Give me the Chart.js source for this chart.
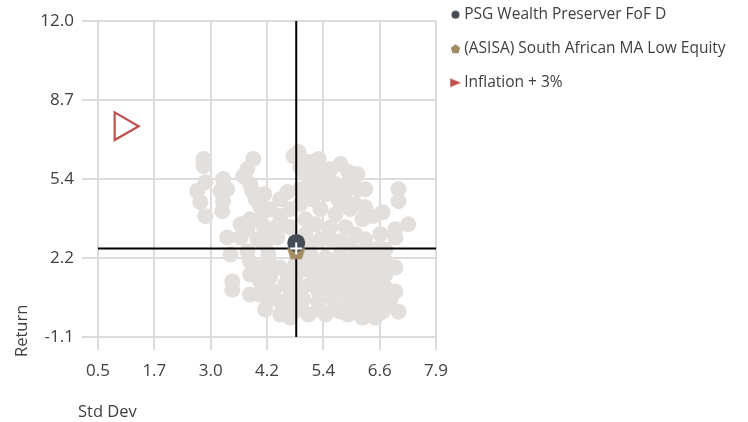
<!DOCTYPE html>
<html>
<head>
    <title>Risk vs Return</title>
    <meta charset="utf-8" />
    <script src="https://cdn.jsdelivr.net/npm/chart.js@4.4.0/dist/chart.umd.min.js"></script>
    <style>
        html, body { margin: 0; padding: 0; background: #fff; }
        .chart-container { position: relative; width: 748px; height: 422px; }
    </style>
</head>
<body>
    <div class="chart-container"><canvas id="chart"></canvas></div>

    <script>
        // axis ranges + tick labels as printed on the chart
        const xMin = 0.5, xMax = 7.9;
        const yMin = -1.1, yMax = 12.0;
        const xTickLabels = ['0.5', '1.7', '3.0', '4.2', '5.4', '6.6', '7.9'];
        const yTickLabels = ['-1.1', '2.2', '5.4', '8.7', '12.0'];
        const xTitle = 'Std Dev';
        const yTitle = 'Return';

        // peer group (grey cloud)
        const peerStdDev = [
            2.81, 2.81, 2.67, 2.85, 2.74, 2.85, 3.24, 3.18, 3.33, 3.24,
            3.22, 3.90, 3.77, 3.68, 3.83, 3.88, 4.05, 3.83, 4.05, 3.77,
            4.12, 4.49, 4.65, 4.49, 4.43, 4.78, 3.33, 3.62, 3.99, 4.43,
            3.40, 3.77, 3.44, 3.44, 4.05, 4.05, 4.05, 4.27, 4.49, 4.49,
            4.49, 4.71, 4.65, 4.34, 4.23, 4.71, 4.75,
            4.27, 4.71, 4.71,
            4.89, 5.11, 5.33, 5.41, 5.04, 4.93, 5.15, 5.54,
            5.98, 6.18, 6.20, 5.92, 5.76, 7.08, 7.08, 6.73, 7.29, 7.01, 6.51, 6.29,
            4.93, 5.19, 5.48, 5.37, 5.70, 6.02, 5.04, 5.26, 5.59, 5.92, 6.13, 5.04, 5.37, 5.81, 6.35, 6.68, 7.01, 6.57,
            5.15, 5.48, 5.81, 6.13, 6.46, 6.79, 7.01,
            5.04, 5.37, 5.70, 6.02, 6.35, 6.79,
            5.15, 5.48, 5.81, 6.13, 6.46, 6.79, 7.01,
            5.00, 5.33, 5.65, 5.98, 6.29, 6.64,
            5.11, 5.48, 5.98, 6.29, 6.57, 6.73, 7.08,
            5.81, 4.93, 4.93,
            4.93, 5.26, 5.59, 5.81, 5.70, 6.02, 6.35, 5.37, 5.04, 5.81, 6.13, 6.35,
            5.59, 6.02, 5.15, 6.79, 6.35,
            4.82, 4.82, 5.21, 5.59, 5.92, 6.24, 6.64, 5.26, 5.54, 5.92, 6.24, 6.57,
            4.93, 5.33, 5.70, 6.02, 6.35, 6.90, 4.93, 5.33, 5.65, 6.13, 6.46, 6.86,
            4.16, 3.83, 4.27, 4.60, 4.23, 4.71, 4.16, 3.83, 3.83,
            3.95, 3.62, 4.27, 4.14
        ];
        const peerReturn = [
            6.28, 5.99, 4.95, 5.32, 4.49, 3.91, 5.45, 4.95, 5.03, 4.53,
            4.11, 6.28, 5.86, 5.57, 5.24, 4.95, 4.32, 3.78, 3.78, 3.37,
            3.49, 4.61, 4.91, 3.91, 3.49, 6.40, 3.03, 3.03, 2.95, 3.03,
            2.32, 2.45, 1.20, 0.87, 1.78, 1.20, 0.66, 1.37, 1.78, 0.37,
            -0.17, -0.30, 1.49, 0.79, 2.32, 0.87, 0.24,
            4.20, 4.20, 3.45,
            6.57, 6.15, 6.28, 5.86, 5.65, 5.03, 5.24, 5.45,
            5.74, 5.65, 5.03, 4.91, 4.61, 5.03, 4.53, 4.07, 3.57, 3.37, 3.91, 3.78,
            4.41, 4.61, 4.82, 4.20, 3.99, 4.20, 3.78, 3.57, 3.45, 3.45, 3.16, 3.16, 2.95, 2.87, 2.95, 3.16, 3.03, 2.53,
            2.32, 2.20, 2.32, 2.20, 2.03, 2.03, 1.78,
            1.70, 1.62, 1.70, 1.49, 1.49, 1.49,
            1.08, 0.95, 1.08, 0.87, 0.87, 0.95, 0.79,
            0.45, 0.37, 0.45, 0.33, 0.33, 0.54,
            -0.17, -0.17, -0.17, -0.30, -0.30, -0.05, -0.05,
            -0.05, 2.20, 2.74,
            5.95, 5.78, 5.86, 6.07, 5.24, 5.24, 5.03, 5.11, 4.70, 4.41, 4.41, 4.28,
            2.95, 2.74, 2.74, 2.53, 2.53,
            1.91, 1.28, 1.99, 2.03, 1.91, 1.91, 1.78, 1.37, 1.28, 1.37, 1.16, 1.20,
            0.79, 0.79, 0.74, 0.58, 0.66, 0.45, 0.04, 0.04, 0.04, 0.04, 0.12, 0.24,
            2.74, 2.03, 1.91, 1.08, 0.45, 0.45, 0.04, 1.49, 0.66,
            4.61, 3.57, 3.16, 4.82
        ];

        const fundName = 'PSG Wealth Preserver FoF D';
        const fundStdDev = 4.84, fundReturn = 2.80;
        const categoryName = '(ASISA) South African MA Low Equity';
        const categoryStdDev = 4.84, categoryReturn = 2.49;
        const benchmarkName = 'Inflation + 3%';
        const benchmarkStdDev = 1.04, benchmarkReturn = 7.64;
        // crosshair lines
        const crossStdDev = 4.84, crossReturn = 2.57;

        const fontFamily = '"Open Sans", sans-serif';
        const textColor = '#404040';
        const gridColor = '#dcdcdc';
        const legendWidth = 312;

        // small canvases used as point styles
        function markerCanvas(w, h, draw) {
            const c = document.createElement('canvas');
            c.width = w; c.height = h;
            draw(c.getContext('2d'), w, h);
            return c;
        }
        function pentagon(size, color) {
            return markerCanvas(size, size, (ctx, w, h) => {
                const r = w / 2 - 0.5;
                ctx.beginPath();
                for (let i = 0; i < 5; i++) {
                    const a = -Math.PI / 2 + i * 2 * Math.PI / 5;
                    const px = w / 2 + r * Math.cos(a);
                    const py = h / 2 + r * 0.1 + r * Math.sin(a);
                    if (i === 0) ctx.moveTo(px, py); else ctx.lineTo(px, py);
                }
                ctx.closePath();
                ctx.fillStyle = color;
                ctx.fill();
            });
        }
        function dot(size, color) {
            return markerCanvas(size, size, (ctx, w, h) => {
                ctx.beginPath();
                ctx.arc(w / 2, h / 2, w / 2 - 0.5, 0, Math.PI * 2);
                ctx.fillStyle = color;
                ctx.fill();
            });
        }
        function arrowRight(w, h, color) {
            return markerCanvas(w, h, (ctx) => {
                ctx.beginPath();
                ctx.moveTo(0.5, 0.5);
                ctx.lineTo(w - 0.5, h / 2);
                ctx.lineTo(0.5, h - 0.5);
                ctx.closePath();
                ctx.fillStyle = color;
                ctx.fill();
            });
        }

        const fundColor = '#464c56';
        const categoryColor = '#a38c64';
        const benchmarkColor = '#c0504d';
        const peerColor = '#e3dfdc';

        const legendMarkers = [
            { text: fundName, style: dot(9, fundColor) },
            { text: categoryName, style: pentagon(11, categoryColor) },
            { text: benchmarkName, style: arrowRight(12, 10, benchmarkColor) }
        ];

        // legend: fixed width so the plot ends where the original does, and pulled up
        const legendFix = {
            id: 'legendFix',
            beforeUpdate(chart) {
                const legend = chart.legend;
                if (legend && !legend._fixedFit) {
                    const fit = legend.fit;
                    legend.fit = function () { fit.call(this); this.width = legendWidth; };
                    legend._fixedFit = true;
                }
            },
            afterLayout(chart) {
                chart.legend.top -= 32.5;
                chart.legend.bottom -= 32.5;
            }
        };

        const axisTitles = {
            id: 'axisTitles',
            afterDraw(chart) {
                const ctx = chart.ctx;
                const area = chart.chartArea;
                ctx.save();
                ctx.font = '16.5px ' + fontFamily;
                ctx.fillStyle = textColor;
                ctx.textBaseline = 'middle';
                ctx.textAlign = 'left';
                ctx.fillText(xTitle, area.left - 20, area.bottom + 75);
                ctx.translate(22, area.bottom + 20);
                ctx.rotate(-Math.PI / 2);
                ctx.fillText(yTitle, 0, 0);
                ctx.restore();
            }
        };

        const toPoints = (xs, ys) => xs.map((x, i) => ({ x: x, y: ys[i] }));

        new Chart(document.getElementById('chart'), {
            type: 'scatter',
            data: {
                datasets: [
                    {
                        label: fundName,
                        data: [{ x: fundStdDev, y: fundReturn }],
                        pointStyle: 'circle',
                        pointRadius: 9,
                        backgroundColor: fundColor,
                        borderWidth: 0,
                        order: 1
                    },
                    {
                        label: categoryName,
                        data: [{ x: categoryStdDev, y: categoryReturn }],
                        pointStyle: pentagon(20, categoryColor),
                        backgroundColor: categoryColor,
                        order: 2
                    },
                    {
                        label: benchmarkName,
                        data: [{ x: benchmarkStdDev, y: benchmarkReturn }],
                        pointStyle: 'triangle',
                        pointRotation: 90,
                        pointRadius: 16,
                        backgroundColor: 'rgba(0,0,0,0)',
                        borderColor: benchmarkColor,
                        borderWidth: 2.2,
                        order: 3
                    },
                    {
                        label: 'marker',
                        data: [{ x: crossStdDev, y: crossReturn }],
                        pointStyle: 'cross',
                        pointRadius: 6,
                        borderColor: '#ffffff',
                        borderWidth: 2,
                        order: 0
                    },
                    {
                        label: 'h-line',
                        data: [{ x: xMin, y: crossReturn }, { x: xMax, y: crossReturn }],
                        showLine: true,
                        pointRadius: 0,
                        borderColor: '#000000',
                        borderWidth: 2,
                        order: 5
                    },
                    {
                        label: 'v-line',
                        data: [{ x: crossStdDev, y: yMin }, { x: crossStdDev, y: yMax }],
                        showLine: true,
                        pointRadius: 0,
                        borderColor: '#000000',
                        borderWidth: 2,
                        order: 5
                    },
                    {
                        label: 'peers',
                        data: toPoints(peerStdDev, peerReturn),
                        pointStyle: 'circle',
                        pointRadius: 8,
                        backgroundColor: peerColor,
                        borderWidth: 0,
                        order: 10
                    }
                ]
            },
            options: {
                responsive: true,
                maintainAspectRatio: false,
                animation: false,
                events: [],
                layout: { padding: { top: 21, left: 0, right: 0, bottom: 0 } },
                plugins: {
                    tooltip: { enabled: false },
                    legend: {
                        position: 'right',
                        align: 'start',
                        labels: {
                            usePointStyle: true,
                            boxWidth: 2,
                            boxHeight: 2,
                            padding: 18.5,
                            color: textColor,
                            font: { family: fontFamily, size: 15.5 },
                            generateLabels: () => legendMarkers.map((m, i) => ({
                                text: m.text,
                                pointStyle: m.style,
                                fillStyle: 'rgba(0,0,0,0)',
                                strokeStyle: 'rgba(0,0,0,0)',
                                lineWidth: 0,
                                fontColor: textColor,
                                hidden: false,
                                datasetIndex: i
                            }))
                        }
                    }
                },
                scales: {
                    x: {
                        type: 'linear',
                        min: xMin,
                        max: xMax,
                        afterFit: (scale) => { scale.height = 85; },
                        afterBuildTicks: (scale) => {
                            scale.ticks = xTickLabels.map((_, i) => ({
                                value: xMin + i * (xMax - xMin) / (xTickLabels.length - 1)
                            }));
                        },
                        ticks: {
                            callback: (value, index) => xTickLabels[index],
                            color: textColor,
                            font: { family: fontFamily, size: 17 },
                            padding: 11,
                            maxRotation: 0,
                            autoSkip: false
                        },
                        grid: { color: gridColor, lineWidth: 2, tickLength: 13 },
                        border: { color: gridColor, width: 2 }
                    },
                    y: {
                        type: 'linear',
                        min: yMin,
                        max: yMax,
                        afterFit: (scale) => { scale.width = 98; },
                        afterBuildTicks: (scale) => {
                            scale.ticks = yTickLabels.map((_, i) => ({
                                value: yMin + i * (yMax - yMin) / (yTickLabels.length - 1)
                            }));
                        },
                        ticks: {
                            callback: (value, index) => yTickLabels[index],
                            color: textColor,
                            font: { family: fontFamily, size: 17 },
                            padding: 8,
                            autoSkip: false
                        },
                        grid: { color: gridColor, lineWidth: 2, tickLength: 16 },
                        border: { color: gridColor, width: 2 }
                    }
                }
            },
            plugins: [legendFix, axisTitles]
        });
    </script>
</body>
</html>
